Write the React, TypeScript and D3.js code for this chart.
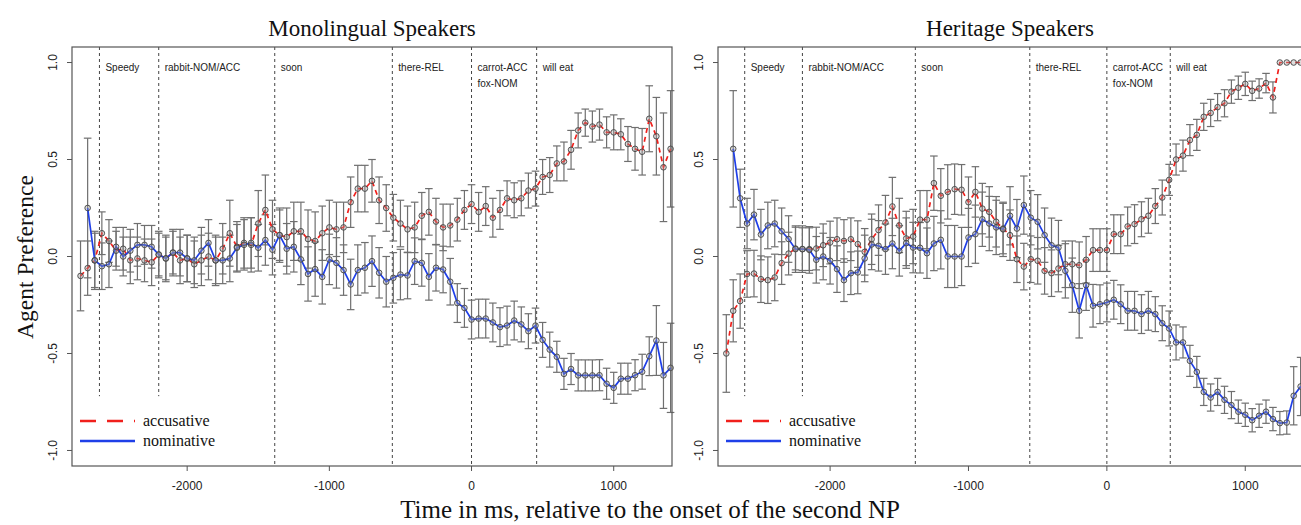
import React from 'react';
import * as d3 from 'd3';

// 50 ms bins, first bin at -2750 ms
const binStart = -2750;
const binStep = 50;
const nBins = 84;
const times = d3.range(nBins).map(i => binStart + binStep * i);

// word onsets (ms, relative to the second NP)
const markerTimes = [-2617, -2200, -1384, -557, 0, 458];
const markerLabels = [['Speedy'], ['rabbit-NOM/ACC'], ['soon'], ['there-REL'], ['carrot-ACC', 'fox-NOM'], ['will eat']];
const markerShort = [true, true, false, false, false, false];

const xTicks = [-2000, -1000, 0, 1000];
const yTicks = [1.0, 0.5, 0.0, -0.5, -1.0];

// Monolingual speakers
const accMono = [
  -0.10, -0.06, -0.02, 0.12, 0.08, 0.03, 0.04, -0.02, -0.01, -0.02,
  -0.03, 0.01, -0.01, 0.02, -0.02, -0.01, -0.04, -0.02, 0.00, -0.02,
  0.04, 0.12, 0.05, 0.07, 0.06, 0.17, 0.24, 0.14, 0.11, 0.10,
  0.13, 0.13, 0.09, 0.08, 0.12, 0.15, 0.14, 0.15, 0.28, 0.35,
  0.35, 0.39, 0.29, 0.25, 0.20, 0.17, 0.14, 0.15, 0.21, 0.23,
  0.18, 0.15, 0.16, 0.19, 0.24, 0.27, 0.23, 0.26, 0.20, 0.24,
  0.30, 0.29, 0.30, 0.34, 0.35, 0.41, 0.42, 0.48, 0.49, 0.55,
  0.65, 0.69, 0.67, 0.68, 0.64, 0.64, 0.63, 0.58, 0.555, 0.54,
  0.71, 0.62, 0.46, 0.555,
];
const accMonoErr = [
  0.18, 0.14, 0.14, 0.11, 0.11, 0.10, 0.11, 0.12, 0.11, 0.11,
  0.12, 0.12, 0.11, 0.12, 0.12, 0.12, 0.12, 0.13, 0.12, 0.13,
  0.13, 0.17, 0.13, 0.13, 0.14, 0.17, 0.18, 0.15, 0.14, 0.15,
  0.15, 0.15, 0.15, 0.15, 0.14, 0.14, 0.14, 0.13, 0.13, 0.12,
  0.12, 0.11, 0.12, 0.12, 0.12, 0.12, 0.12, 0.13, 0.12, 0.12,
  0.12, 0.12, 0.11, 0.11, 0.10, 0.10, 0.10, 0.10, 0.10, 0.10,
  0.09, 0.09, 0.09, 0.09, 0.09, 0.09, 0.09, 0.09, 0.10, 0.10,
  0.09, 0.07, 0.08, 0.08, 0.08, 0.09, 0.08, 0.09, 0.11, 0.12,
  0.17, 0.20, 0.28, 0.30,
];
const nomMono = [
  null, 0.25, -0.02, -0.05, -0.04, 0.05, 0.00, 0.03, 0.06, 0.06,
  0.05, 0.01, -0.01, 0.02, 0.02, -0.01, -0.02, 0.03, 0.07, -0.02,
  -0.02, -0.01, 0.045, 0.06, 0.07, 0.045, 0.085, 0.035, 0.11, 0.04,
  0.05, -0.015, -0.09, -0.065, -0.105, -0.015, -0.033, -0.07, -0.144, -0.07,
  -0.058, -0.024, -0.084, -0.13, -0.11, -0.093, -0.098, -0.024, -0.033, -0.105,
  -0.058, -0.067, -0.13, -0.24, -0.265, -0.325, -0.32, -0.32, -0.34, -0.364,
  -0.356, -0.33, -0.35, -0.385, -0.356, -0.43, -0.48, -0.517, -0.605, -0.58,
  -0.613, -0.613, -0.613, -0.612, -0.656, -0.677, -0.63, -0.63, -0.612, -0.594,
  -0.514, -0.433, -0.613, -0.574,
];
const nomMonoErr = [
  null, 0.36, 0.15, 0.12, 0.12, 0.10, 0.10, 0.11, 0.11, 0.10,
  0.11, 0.11, 0.12, 0.11, 0.12, 0.12, 0.12, 0.12, 0.12, 0.12,
  0.12, 0.12, 0.12, 0.13, 0.13, 0.12, 0.13, 0.13, 0.13, 0.13,
  0.13, 0.13, 0.14, 0.14, 0.14, 0.13, 0.13, 0.13, 0.13, 0.13,
  0.13, 0.13, 0.13, 0.13, 0.13, 0.13, 0.12, 0.12, 0.12, 0.12,
  0.12, 0.12, 0.12, 0.10, 0.10, 0.10, 0.10, 0.10, 0.10, 0.10,
  0.10, 0.10, 0.09, 0.09, 0.09, 0.09, 0.09, 0.08, 0.08, 0.08,
  0.08, 0.08, 0.08, 0.08, 0.08, 0.08, 0.08, 0.08, 0.08, 0.09,
  0.10, 0.18, 0.17, 0.23,
];

// Heritage speakers
const accHer = [
  -0.50, -0.28, -0.23, -0.09, -0.088, -0.117, -0.122, -0.108, -0.034, 0.015,
  0.041, 0.038, 0.038, 0.041, 0.058, 0.072, 0.089, 0.08, 0.089, 0.064,
  0.024, 0.089, 0.136, 0.175, 0.258, 0.16, 0.093, 0.103, 0.19, 0.19,
  0.378, 0.313, 0.333, 0.347, 0.344, 0.28, 0.333, 0.247, 0.23, 0.179,
  0.144, 0.11, -0.014, -0.052, -0.014, -0.022, -0.074, -0.086, -0.062, -0.04,
  -0.04, -0.045, -0.017, 0.033, 0.033, 0.033, 0.115, 0.115, 0.155, 0.167,
  0.192, 0.21, 0.26, 0.304, 0.395, 0.50, 0.52, 0.60, 0.627, 0.72,
  0.74, 0.77, 0.79, 0.85, 0.87, 0.89, 0.854, 0.866, 0.894, 0.82,
  1.0, 1.0, 1.0, 1.0,
];
const accHerErr = [
  0.20, 0.16, 0.14, 0.12, 0.12, 0.12, 0.12, 0.12, 0.11, 0.11,
  0.11, 0.11, 0.11, 0.11, 0.11, 0.11, 0.11, 0.11, 0.11, 0.12,
  0.12, 0.13, 0.13, 0.14, 0.15, 0.14, 0.14, 0.14, 0.15, 0.15,
  0.14, 0.14, 0.14, 0.13, 0.13, 0.13, 0.13, 0.13, 0.13, 0.13,
  0.13, 0.13, 0.12, 0.12, 0.12, 0.12, 0.12, 0.12, 0.12, 0.12,
  0.12, 0.12, 0.12, 0.11, 0.11, 0.11, 0.10, 0.10, 0.10, 0.10,
  0.09, 0.09, 0.09, 0.09, 0.08, 0.08, 0.08, 0.08, 0.08, 0.07,
  0.07, 0.07, 0.07, 0.06, 0.06, 0.06, 0.05, 0.05, 0.05, 0.08,
  0, 0, 0, 0,
];
const nomHer = [
  null, 0.555, 0.30, 0.17, 0.216, 0.113, 0.16, 0.17, 0.13, 0.09,
  0.038, 0.038, 0.034, -0.017, 0.0, -0.022, -0.065, -0.122, -0.086, -0.082,
  -0.01, 0.062, 0.055, 0.038, 0.067, 0.029, 0.069, 0.046, 0.045, 0.017,
  0.067, 0.086, 0.0, 0.0, 0.0, 0.098, 0.115, 0.192, 0.17, 0.15,
  0.14, 0.21, 0.144, 0.265, 0.20, 0.179, 0.11, 0.058, 0.046, -0.074,
  -0.148, -0.28, -0.148, -0.254, -0.246, -0.237, -0.223, -0.246, -0.28, -0.28,
  -0.297, -0.28, -0.297, -0.344, -0.371, -0.443, -0.443, -0.538, -0.595, -0.698,
  -0.727, -0.698, -0.739, -0.766, -0.80, -0.816, -0.844, -0.821, -0.80, -0.838,
  -0.859, -0.856, -0.718, -0.67,
];
const nomHerErr = [
  null, 0.30, 0.15, 0.13, 0.13, 0.13, 0.12, 0.12, 0.12, 0.12,
  0.12, 0.12, 0.12, 0.12, 0.12, 0.12, 0.12, 0.11, 0.11, 0.11,
  0.12, 0.13, 0.13, 0.13, 0.13, 0.13, 0.13, 0.13, 0.13, 0.13,
  0.14, 0.15, 0.16, 0.16, 0.15, 0.15, 0.15, 0.14, 0.14, 0.14,
  0.14, 0.15, 0.15, 0.15, 0.14, 0.14, 0.14, 0.14, 0.14, 0.14,
  0.14, 0.14, 0.13, 0.11, 0.10, 0.10, 0.10, 0.10, 0.10, 0.10,
  0.10, 0.10, 0.09, 0.09, 0.09, 0.09, 0.08, 0.08, 0.08, 0.07,
  0.07, 0.07, 0.07, 0.07, 0.06, 0.06, 0.06, 0.06, 0.06, 0.06,
  0.06, 0.06, 0.15, 0.15,
];

const RED = '#f0201c';
const BLUE = '#1f3fe8';
const SANS = '"Liberation Sans", Arial, sans-serif';
const SERIF = '"Liberation Serif", "Times New Roman", serif';

const TOP = 47;
const BOTTOM = 466;

type Pt = { t: number; v: number | null; e: number | null };

function zip(vals: (number | null)[], errs: (number | null)[]): Pt[] {
  return times.map((t, i) => ({ t, v: vals[i], e: errs[i] }));
}

function Panel({ x0, x1, title, acc, accErr, nom, nomErr }: any) {
  const x = d3.scaleLinear().domain([-2810, 1410]).range([x0, x1]);
  const y = d3.scaleLinear().domain([-1.08, 1.08]).range([BOTTOM, TOP]);

  const accPts = zip(acc, accErr);
  const nomPts = zip(nom, nomErr);

  const line = d3.line<Pt>()
    .defined(d => d.v != null)
    .x(d => x(d.t))
    .y(d => y(d.v as number));

  const errBars = (pts: Pt[], key: string) =>
    pts.filter(d => d.v != null && d.e).map((d, i) => {
      const cx = x(d.t);
      const y1 = y((d.v as number) + (d.e as number));
      const y2 = y((d.v as number) - (d.e as number));
      return (
        <g key={key + i} stroke="#6f6f6f" strokeWidth={1.2}>
          <line x1={cx} x2={cx} y1={y1} y2={y2} />
          <line x1={cx - 3.8} x2={cx + 3.8} y1={y1} y2={y1} />
          <line x1={cx - 3.8} x2={cx + 3.8} y1={y2} y2={y2} />
        </g>
      );
    });

  const dots = (pts: Pt[], key: string) =>
    pts.filter(d => d.v != null).map((d, i) => (
      <circle key={key + i} cx={x(d.t)} cy={y(d.v as number)} r={2.8}
        fill="rgba(160,160,160,0.35)" stroke="#444" strokeWidth={0.9} />
    ));

  const cx = (x0 + x1) / 2;

  return (
    <g>
      <text x={cx} y={36} textAnchor="middle" fontFamily={SERIF} fontSize={23} fill="#111">{title}</text>

      {markerTimes.map((t, i) => (
        <g key={'m' + i}>
          <line x1={x(t)} x2={x(t)} y1={TOP} y2={markerShort[i] ? y(-0.72) : BOTTOM}
            stroke="#444" strokeWidth={1} strokeDasharray="3,3" />
          {markerLabels[i].map((s, j) => (
            <text key={j} x={x(t) + 6} y={71 + j * 16} fontFamily={SANS} fontSize={10} fill="#222">{s}</text>
          ))}
        </g>
      ))}

      {errBars(accPts, 'ea')}
      {errBars(nomPts, 'en')}

      <path d={line(accPts) || ''} fill="none" stroke={RED} strokeWidth={1.7} strokeDasharray="5,4" />
      <path d={line(nomPts) || ''} fill="none" stroke={BLUE} strokeWidth={1.7} />

      {dots(accPts, 'da')}
      {dots(nomPts, 'dn')}

      <rect x={x0} y={TOP} width={x1 - x0} height={BOTTOM - TOP} fill="none" stroke="#555" strokeWidth={1.2} />

      {yTicks.map(v => (
        <g key={'y' + v}>
          <line x1={x0 - 5} x2={x0} y1={y(v)} y2={y(v)} stroke="#555" />
          <text transform={`translate(${x0 - 15},${y(v)}) rotate(-90)`} textAnchor="middle"
            fontFamily={SANS} fontSize={12} fill="#222">{v.toFixed(1)}</text>
        </g>
      ))}
      {xTicks.map(t => (
        <g key={'x' + t}>
          <line x1={x(t)} x2={x(t)} y1={BOTTOM} y2={BOTTOM + 5} stroke="#555" />
          <text x={x(t)} y={490} textAnchor="middle" fontFamily={SANS} fontSize={12} fill="#222">{t}</text>
        </g>
      ))}

      <line x1={x0 + 8} x2={x0 + 63} y1={421} y2={421} stroke={RED} strokeWidth={2.4} strokeDasharray="16,11" />
      <text x={x0 + 71} y={426} fontFamily={SERIF} fontSize={16} fill="#111">accusative</text>
      <line x1={x0 + 8} x2={x0 + 63} y1={441} y2={441} stroke={BLUE} strokeWidth={2.4} />
      <text x={x0 + 71} y={446} fontFamily={SERIF} fontSize={16} fill="#111">nominative</text>
    </g>
  );
}

export default function App() {
  return (
    <svg width={1301} height={525} style={{ position: 'absolute', left: 0, top: 0, background: '#fff' }}>
      <rect width={1301} height={525} fill="#fff" />
      <Panel x0={72} x1={672} title="Monolingual Speakers"
        acc={accMono} accErr={accMonoErr} nom={nomMono} nomErr={nomMonoErr} />
      <Panel x0={718} x1={1302} title="Heritage Speakers"
        acc={accHer} accErr={accHerErr} nom={nomHer} nomErr={nomHerErr} />
      <text transform="translate(33,257) rotate(-90)" textAnchor="middle" fontFamily={SERIF} fontSize={23.5} fill="#111">Agent Preference</text>
      <text x={650} y={518} textAnchor="middle" fontFamily={SERIF} fontSize={25} fill="#111">Time in ms, relative to the onset of the second NP</text>
    </svg>
  );
}
